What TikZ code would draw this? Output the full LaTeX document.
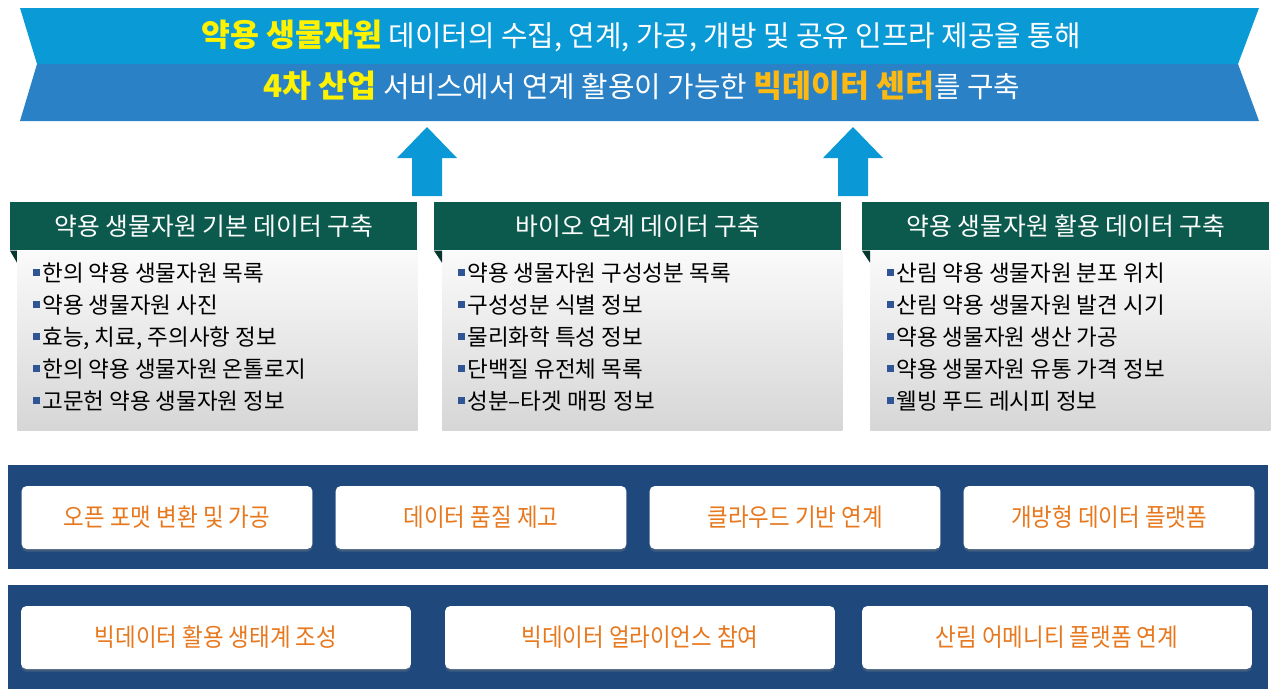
\documentclass[tikz,border=0pt]{standalone}
\usepackage{fontspec}
\setmainfont{Noto Sans CJK KR}
\newfontfamily\krnarrow[FakeStretch=0.9]{Noto Sans CJK KR}
\usepackage{tikz}
\usetikzlibrary{positioning,shadows}
\definecolor{ribbontop}{HTML}{0A9AD6}
\definecolor{ribbonbot}{HTML}{2A81C6}
\definecolor{arrowblue}{HTML}{0A99D6}
\definecolor{headgreen}{HTML}{0B5A4D}
\definecolor{headdark}{HTML}{05372F}
\definecolor{navyband}{HTML}{1F497C}
\definecolor{taskorange}{HTML}{E8781E}
\definecolor{hiyellow}{HTML}{FFF200}
\definecolor{higold}{HTML}{FDB913}
\definecolor{bulletblue}{HTML}{2F5597}
\newcommand{\hly}[1]{{\fontsize{17.9}{19}\selectfont\bfseries\color{hiyellow}#1}}
\newcommand{\hlg}[1]{{\fontsize{17.9}{19}\selectfont\bfseries\color{higold}#1}}
\newcommand{\itm}{{\color{bulletblue}\rule[0.22em]{0.3em}{0.3em}}\hspace{0.1em}}

\begin{document}
\begin{tikzpicture}[x=0.02cm, y=-0.02cm,
  banner/.style={text=white, inner sep=0pt, font=\fontsize{16.4}{18}\selectfont},
  head/.style={fill=headgreen, text=white, minimum width=8.14cm, minimum height=0.96cm, anchor=north west, inner sep=0pt, font=\fontsize{14.1}{16}\selectfont},
  panel/.style={top color=gray!4, bottom color=gray!32, minimum width=8cm, minimum height=3.58cm, inner sep=0pt},
  items/.style={anchor=north west, align=left, inner sep=0pt, font=\fontsize{12.8}{18.2}\selectfont},
  band/.style={fill=navyband, minimum width=25.2cm, minimum height=2.08cm, anchor=north west, inner sep=0pt},
  task/.style={fill=white, rounded corners=3pt, minimum height=1.26cm, inner sep=0pt, text=taskorange, font=\krnarrow\fontsize{14.2}{15}\selectfont, drop shadow={opacity=.35, shadow xshift=0pt, shadow yshift=-1.5pt}},
  upar/.style={fill=arrowblue}
]
\useasboundingbox (0,0) rectangle (1280,698);

% Ribbon
\fill[ribbontop] (20,8) -- (1259,8) -- (1238,64) -- (37,64) -- cycle;
\fill[ribbonbot] (37,64) -- (1238,64) -- (1259,121) -- (20,121) -- cycle;
\node[banner] (msg1) at (641,36) {\hly{약용 생물자원} 데이터의 수집, 연계, 가공, 개방 및 공유 인프라 제공을 통해};
\node[banner] (msg2) at (642,86) {\hly{4차 산업} 서비스에서 연계 활용이 가능한 \hlg{빅데이터 센터}를 구축};

% Up arrows
\foreach \ax in {427,853}
  \fill[upar] (\ax-15,196) -- (\ax-15,158) -- (\ax-30,158) -- (\ax,127) -- (\ax+30,158) -- (\ax+15,158) -- (\ax+15,196) -- cycle;

% Panels
\node[head] (h1) at (10,202) {약용 생물자원 기본 데이터 구축};
\node[head] (h2) at (434,202) {바이오 연계 데이터 구축};
\node[head] (h3) at (862,202) {약용 생물자원 활용 데이터 구축};

\node[panel, below right=0pt and 0.14cm of h1.south west] (b1) {};
\node[panel, below right=0pt and 0.16cm of h2.south west] (b2) {};
\node[panel, below right=0pt and 0.16cm of h3.south west] (b3) {};

\foreach \i in {1,2,3}
  \fill[headdark] (h\i.south west) -- (b\i.north west) -- ([yshift=-0.24cm]b\i.north west) -- cycle;

\node[items] (i1) at ([xshift=0.32cm,yshift=-0.23cm]b1.north west) {\itm 한의 약용 생물자원 목록\\ \itm 약용 생물자원 사진\\ \itm 효능, 치료, 주의사항 정보\\ \itm 한의 약용 생물자원 온톨로지\\ \itm 고문헌 약용 생물자원 정보};
\node[items] (i2) at ([xshift=0.32cm,yshift=-0.23cm]b2.north west) {\itm 약용 생물자원 구성성분 목록\\ \itm 구성성분 식별 정보\\ \itm 물리화학 특성 정보\\ \itm 단백질 유전체 목록\\ \itm 성분–타겟 매핑 정보};
\node[items] (i3) at ([xshift=0.34cm,yshift=-0.23cm]b3.north west) {\itm 산림 약용 생물자원 분포 위치\\ \itm 산림 약용 생물자원 발견 시기\\ \itm 약용 생물자원 생산 가공\\ \itm 약용 생물자원 유통 가격 정보\\ \itm 웰빙 푸드 레시피 정보};

% Bottom bands
\node[band] (nav1) at (8,465) {};
\node[band] (nav2) at (8,585) {};

\node[task, minimum width=5.82cm] (t1) at (167,517.5) {오픈 포맷 변환 및 가공};
\node[task, minimum width=5.82cm] (t2) at (481,517.5) {데이터 품질 제고};
\node[task, minimum width=5.82cm] (t3) at (795,517.5) {클라우드 기반 연계};
\node[task, minimum width=5.82cm] (t4) at (1109,517.5) {개방형 데이터 플랫폼};

\node[task, minimum width=7.8cm] (u1) at (216,637.5) {빅데이터 활용 생태계 조성};
\node[task, minimum width=7.8cm] (u2) at (640,637.5) {빅데이터 얼라이언스 참여};
\node[task, minimum width=7.8cm] (u3) at (1057,637.5) {산림 어메니티 플랫폼 연계};

\end{tikzpicture}
\end{document}
